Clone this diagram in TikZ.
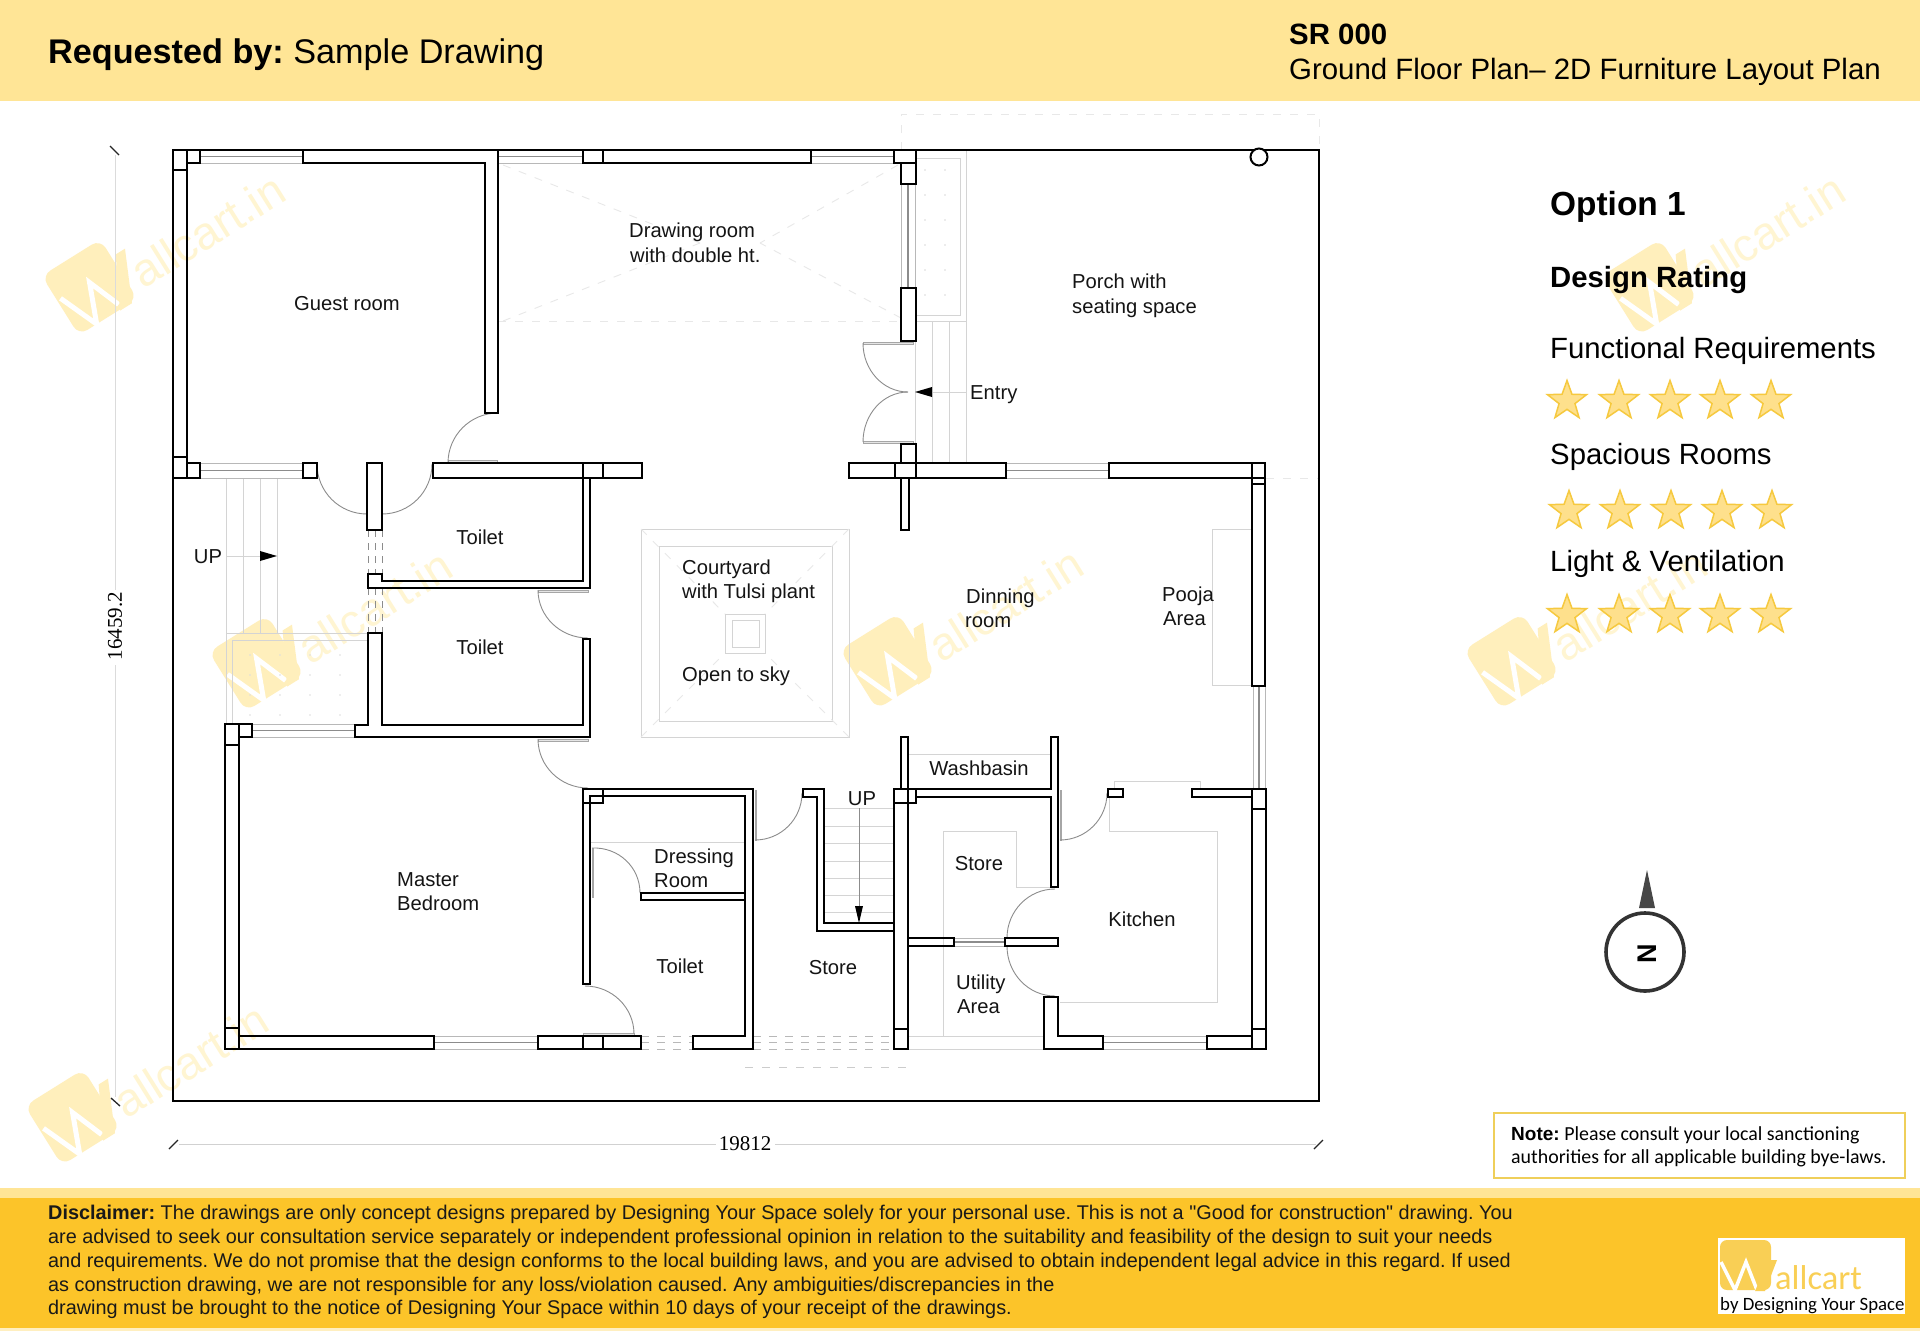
\documentclass[tikz,border=0pt]{standalone}
\usepackage{fontspec}
\usetikzlibrary{shapes.geometric}
\setmainfont{Liberation Sans}
\newfontfamily\plainsans{Liberation Sans}
\newfontfamily\calib{Carlito}
\newfontfamily\serf{Liberation Serif}
\frenchspacing
\definecolor{bandlight}{HTML}{FFE596}
\definecolor{bandorange}{HTML}{FCC429}
\definecolor{wmlogo}{HTML}{FFEFBC}
\definecolor{wmtext}{HTML}{FFF5D2}
\definecolor{logoyellow}{HTML}{F9CF55}
\definecolor{starfill}{HTML}{FEE08C}
\definecolor{starline}{HTML}{F6C93F}
\definecolor{notebox}{HTML}{EFCF5A}
\tikzset{
  wall/.style={draw=black,line width=2pt,line join=miter},
  fwin/.style={draw=black!28,line width=1pt},
  mwin/.style={draw=black!45,line width=1.6pt},
  faint/.style={draw=black!17,line width=0.9pt},
  faintd/.style={draw=black!9,line width=0.9pt,dash pattern=on 8pt off 9pt},
  doorarc/.style={draw=black!45,line width=0.9pt},
  leaf/.style={draw=black!35,fill=black!10,line width=0.6pt},
  hid/.style={draw=black!45,line width=1pt,dash pattern=on 7pt off 6pt},
  hidlight/.style={draw=black!28,line width=1pt,dash pattern=on 8pt off 8pt},
  room/.style={font=\fontsize{20.2}{24}\selectfont,inner sep=0pt,text height=14.4pt,text depth=0pt,text=black!92},
  roomw/.style={room,anchor=west},
  side/.style={inner sep=0pt,anchor=base west},
  discl/.style={inner sep=0pt,anchor=base west,font=\fontsize{19.85}{22}\selectfont,text=black!90},
  dim/.style={font=\serf\fontsize{21}{24}\selectfont,inner sep=0pt},
  ratingstar/.style={star,star points=5,star point ratio=2.45,fill=starfill,draw=starline,line width=1.5pt,minimum size=41pt,inner sep=0pt},
}
\newcommand{\hwin}[4]{% x1 x2 y1 y2
  \pgfmathsetmacro\wmid{(#3+#4)/2}
  \draw[fwin] (#1,#3) -- (#2,#3);
  \draw[fwin] (#1,#4) -- (#2,#4);
  \draw[mwin] (#1,\wmid) -- (#2,\wmid);}
\newcommand{\vwin}[4]{% y1 y2 x1 x2
  \pgfmathsetmacro\wmid{(#3+#4)/2}
  \draw[fwin] (#3,#1) -- (#3,#2);
  \draw[fwin] (#4,#1) -- (#4,#2);
  \draw[mwin] (\wmid,#1) -- (\wmid,#2);}
\newcommand{\qarc}[6]{% hinge, start, end
  \pgfmathsetmacro\cax{#3+0.5523*(#5-#1)}
  \pgfmathsetmacro\cay{#4+0.5523*(#6-#2)}
  \pgfmathsetmacro\cbx{#5+0.5523*(#3-#1)}
  \pgfmathsetmacro\cby{#6+0.5523*(#4-#2)}
  \draw[doorarc] (#3,#4) .. controls (\cax,\cay) and (\cbx,\cby) .. (#5,#6);}
\newcommand{\wmark}[3]{% name, logo centre
  \begin{scope}[shift={(#2,#3)},rotate=32]
    \fill[wmlogo,rounded corners=10pt] (-35,-35) rectangle (34,35);
    \draw[white,line width=5pt,line join=miter] (-31,-6) -- (-14,35) -- (2,-4) -- (15,30);
    \fill[wmlogo] (13,36) -- (27,36) -- (50,-14) -- (39,-14) -- cycle;
    \node[transform shape,anchor=base west,inner sep=0pt,text=wmtext,font=\fontsize{46}{50}\selectfont] (#1) at (44,31) {allcart.in};
  \end{scope}}
\begin{document}
\begin{tikzpicture}[x=1pt,y=-1pt]
\useasboundingbox (0,0) rectangle (1920,1331);
\fill[white] (0,0) rectangle (1920,1331);
% bands
\fill[bandlight] (0,0) rectangle (1920,101);
\fill[bandlight] (0,1188) rectangle (1920,1198);
\fill[bandorange] (0,1198) rectangle (1920,1328);
\fill[bandlight!60] (0,1328) rectangle (1920,1331);
% watermarks
\wmark{wa}{90}{287}
\wmark{wb}{257}{663}
\wmark{wc}{888}{661}
\wmark{wd}{1512}{661}
\wmark{we}{1650}{287}
\wmark{wf}{73}{1117}
% header
\node[side,font=\fontsize{34.2}{40}\selectfont] (req) at (48,63) {\textbf{Requested by:} Sample Drawing};
\node[side,font=\bfseries\fontsize{29.4}{34}\selectfont] (sr) at (1289,44) {SR 000};
\node[side,font=\fontsize{29.4}{34}\selectfont] (gf) at (1289,79) {Ground Floor Plan– 2D Furniture Layout Plan};
% dimensions
\draw[black!14,line width=1pt] (115,155) -- (115,590);
\draw[black!14,line width=1pt] (115,665) -- (115,1097);
\draw[black!85,line width=1.3pt] (110,146) -- (119,155);
\draw[black!85,line width=1.3pt] (111,1098) -- (120,1106);
\node[dim,rotate=90] (dimv) at (115,626) {16459.2};
\draw[black!18,line width=1pt] (179,1144) -- (716,1144);
\draw[black!18,line width=1pt] (775,1144) -- (1316,1144);
\draw[black!85,line width=1.3pt] (169,1149) -- (178,1140);
\draw[black!85,line width=1.3pt] (1314,1149) -- (1323,1140);
\node[dim] (dimh) at (745,1144) {19812};
% faint dashes
\draw[faintd] (901,150) -- (901,114) -- (1319,114) -- (1319,150);
\draw[faintd] (498,321) -- (901,321);
\draw[faintd] (503,165) -- (700,243);
\draw[faintd] (503,321) -- (700,243);
\draw[faintd] (898,165) -- (760,243);
\draw[faintd] (901,318) -- (760,243);
\draw[faintd] (1266,478) -- (1319,478);
\draw[draw=black!20,line width=0.9pt,dash pattern=on 8pt off 9pt] (745,1067) -- (909,1067) -- (909,1062);
% entry planter and steps
\draw[faint] (915,158) -- (960,158) -- (960,315) -- (915,315);
\draw[faint] (966,150) -- (966,321) -- (915,321);
\foreach \py in {170,195,...,310} \foreach \px in {925,945} \fill[black!15] (\px,\py) circle (0.9pt);
\foreach \sx in {915,932,949,966} \draw[faint] (\sx,321) -- (\sx,463);
\draw[faint] (932,392) -- (966,392);
\fill[black] (915,392) -- (932,387) -- (932,397) -- cycle;
% left stairs
\foreach \sx in {226,243,260,277} \draw[faint] (\sx,478) -- (\sx,633);
\draw[faint] (226,633) -- (226,724);
\draw[faint] (226,633) -- (367,633);
\draw[faint] (232,724) -- (232,640) -- (367,640);
\foreach \py in {655,675,695,715} \foreach \px in {250,280,...,360} \fill[black!13] (\px,\py) circle (0.9pt);
\draw[faint] (226,556) -- (260,556);
\fill[black] (277,556) -- (260,551) -- (260,561) -- cycle;
% courtyard
\draw[faint] (641,529) rectangle (849,737);
\draw[faint] (659,546) rectangle (832,721);
\draw[faint] (725,614) rectangle (765,653);
\draw[faint] (732,620) rectangle (759,647);
\draw[faintd] (641,529) -- (725,614);
\draw[faintd] (849,529) -- (765,614);
\draw[faintd] (641,737) -- (725,653);
\draw[faintd] (849,737) -- (765,653);
% pooja counter
\draw[faint] (1252,529) -- (1212,529) -- (1212,685) -- (1252,685);
% kitchen and store counters
\draw[faint] (943,1036) -- (943,831) -- (1016,831) -- (1016,887) -- (1051,887);
\draw[faint] (1114,789) -- (1114,781) -- (1200,781) -- (1200,789);
\draw[faint] (1109,797) -- (1109,831) -- (1217,831) -- (1217,1002) -- (1060,1002);
\draw[faint] (908,754) -- (1051,754);
\draw[faint] (908,1036) -- (1044,1036);
\draw[faint] (908,1049) -- (1044,1049);
\draw[faint] (590,842) -- (745,842);
% stair treads
\foreach \ty in {808,826,843,861,878,895,912} \draw[faint] (824,\ty) -- (894,\ty);
\draw[black!45,line width=0.9pt] (859,808) -- (859,906);
\fill[black] (859,923) -- (855,906) -- (863,906) -- cycle;
% windows
\hwin{200}{303}{150}{163}
\hwin{498}{583}{150}{163}
\hwin{811}{894}{150}{163}
\hwin{200}{303}{463}{478}
\hwin{1006}{1109}{463}{478}
\hwin{252}{355}{724}{737}
\hwin{434}{538}{1036}{1049}
\hwin{954}{1005}{938}{946}
\hwin{1103}{1207}{1036}{1049}
\vwin{184}{288}{901}{915}
\vwin{686}{789}{1253}{1265}
% hidden lines
\foreach \dx in {368,375,382} {
  \draw[hid] (\dx,530) -- (\dx,574);
  \draw[hid] (\dx,588) -- (\dx,633);
}
\foreach \dy in {1036,1042.5,1049} {
  \draw[hidlight] (641,\dy) -- (693,\dy);
  \draw[hidlight] (753,\dy) -- (894,\dy);
}
% door leaves
\draw[leaf] (448,460) rectangle (497,462);
\draw[leaf] (863,342) rectangle (913,344.5);
\draw[leaf] (863,441) rectangle (913,443.5);
\draw[leaf] (538,590) rectangle (588,592);
\draw[leaf] (538,739) rectangle (588,741);
\draw[leaf] (592,848) rectangle (593.5,897);
\draw[leaf] (583,1033.5) rectangle (634,1035);
\draw[leaf] (755,790) rectangle (756,840);
\draw[leaf] (1060,790) rectangle (1061,840);
% door arcs
\qarc{498}{463}{498}{413}{448}{463}
\qarc{367}{464}{317}{464}{367}{514}
\qarc{382}{464}{432}{464}{382}{514}
\qarc{908}{343}{863}{343}{908}{392}
\qarc{908}{442}{863}{442}{908}{392}
\qarc{588}{590}{538}{590}{588}{638}
\qarc{588}{739}{538}{739}{588}{788}
\qarc{592}{895}{592}{848}{640}{893}
\qarc{585}{1034}{585}{986}{634}{1034}
\qarc{755}{793}{755}{840}{802}{793}
\qarc{1060}{793}{1060}{840}{1107}{793}
\qarc{1055}{938}{1055}{889}{1007}{938}
\qarc{1055}{946}{1007}{946}{1055}{996}
% walls: top
\draw[wall] (173,150) rectangle (187,170);
\draw[wall] (187,150) rectangle (200,163);
\draw[wall] (173,170) rectangle (187,457);
\draw[wall] (303,150) -- (498,150) -- (498,413) -- (485,413) -- (485,163) -- (303,163) -- cycle;
\draw[wall] (583,150) rectangle (603,163);
\draw[wall] (603,150) rectangle (811,163);
\draw[wall] (894,150) rectangle (915.5,163);
\draw[wall] (901,163) rectangle (915.5,184);
\draw[wall] (901,288) rectangle (915.5,341);
\draw[wall] (901,444) rectangle (915.5,463);
% walls: band at y 463
\draw[wall] (173,457) rectangle (187,478);
\draw[wall] (187,463) rectangle (200,478);
\draw[wall] (303,463) rectangle (317,478);
\draw[wall] (367,463) rectangle (382,530);
\draw[wall] (433,463) rectangle (642,478);
\draw[wall] (583,463) rectangle (603,478);
\draw[wall] (849,463) rectangle (1006,478);
\draw[wall] (894.5,463) rectangle (915.5,478);
\draw[wall] (901,478) rectangle (909,530);
\draw[wall] (1109,463) -- (1265,463) -- (1265,478) -- (1109,478) -- cycle;
\draw[wall] (1252,463) rectangle (1265,484);
\draw[wall] (1252,484) rectangle (1265,686);
% toilets
\draw[wall] (583,478) -- (583,581) -- (382,581) -- (382,574) -- (368,574) -- (368,588) -- (590,588) -- (590,478);
\draw[wall] (368,633) -- (382,633) -- (382,725) -- (583,725) -- (583,639) -- (590,639) -- (590,737) -- (355,737) -- (355,725) -- (368,725) -- cycle;
% master bedroom
\draw[wall] (225,724) rectangle (239,745);
\draw[wall] (239,724) rectangle (252,737);
\draw[wall] (225,745) rectangle (239,1028);
\draw[wall] (225,1028) rectangle (239,1049);
\draw[wall] (239,1036) rectangle (434,1049);
\draw[wall] (538,1036) rectangle (641,1049);
\draw[wall] (583,1036) -- (583,1049);
\draw[wall] (603,1036) -- (603,1049);
% dressing and toilet
\draw[wall] (583,984) -- (583,789) -- (753,789) -- (753,1049) -- (693,1049) -- (693,1036) -- (745,1036) -- (745,796) -- (590,796) -- (590,984) -- cycle;
\draw[wall] (583,789) rectangle (603,803);
\draw[wall] (641,893) rectangle (745,900);
% stair walls
\draw[wall] (803,789) -- (824,789) -- (824,923) -- (894,923) -- (894,931) -- (817,931) -- (817,797) -- (803,797) -- cycle;
\draw[wall] (894,789) rectangle (908,1049);
\draw[wall] (894,1029) -- (908,1029);
\draw[wall] (894,789) rectangle (916,803);
% washbasin, store, utility
\draw[wall] (901,737) rectangle (908,789);
\draw[wall] (908,938) rectangle (954,946);
\draw[wall] (1051,737) -- (1058,737) -- (1058,887) -- (1051,887) -- (1051,797) -- (916,797) -- (916,789) -- (1051,789) -- cycle;
\draw[wall] (1005,938) rectangle (1058,946);
\draw[wall] (1044,997) -- (1058,997) -- (1058,1036) -- (1103,1036) -- (1103,1049) -- (1044,1049) -- cycle;
\draw[wall] (1207,1036) rectangle (1252,1049);
\draw[wall] (1252,789) rectangle (1266,1049);
\draw[wall] (1252,809) -- (1266,809);
\draw[wall] (1252,1029) -- (1266,1029);
\draw[wall] (1192,789) rectangle (1252,797);
\draw[wall] (1108,789) rectangle (1123,797);
% plot boundary and rain pipe
\draw[black,line width=2.4pt] (173,150) rectangle (1319,1101);
\draw[black,line width=2pt,fill=white] (1259,157) circle (8.5pt);
% room labels
\node[room] (guest) at (347,303) {Guest room};
\node[roomw] (dr1) at (629,230) {Drawing room};
\node[roomw] (dr2) at (630,255) {with double ht.};
\node[roomw] (por1) at (1072,281) {Porch with};
\node[roomw] (por2) at (1072,306) {seating space};
\node[roomw] (entry) at (970,392) {Entry};
\node[room] (up1) at (208,556) {UP};
\node[room] (toil1) at (480,537) {Toilet};
\node[room] (toil2) at (480,647) {Toilet};
\node[roomw] (cy1) at (682,567) {Courtyard};
\node[roomw] (cy2) at (682,591) {with Tulsi plant};
\node[roomw] (cy3) at (682,674) {Open to sky};
\node[roomw] (din1) at (966,596) {Dinning};
\node[roomw] (din2) at (965,620) {room};
\node[roomw] (poo1) at (1162,594) {Pooja};
\node[roomw] (poo2) at (1163,618) {Area};
\node[room] (wash) at (979,768) {Washbasin};
\node[room] (up2) at (862,798) {UP};
\node[room] (sto1) at (979,863) {Store};
\node[room] (kit) at (1142,919) {Kitchen};
\node[roomw] (uti1) at (956,982) {Utility};
\node[roomw] (uti2) at (957,1006) {Area};
\node[room] (sto2) at (833,967) {Store};
\node[roomw] (mas1) at (397,879) {Master};
\node[roomw] (mas2) at (397,903) {Bedroom};
\node[roomw] (dre1) at (654,856) {Dressing};
\node[roomw] (dre2) at (654,880) {Room};
\node[room] (toil3) at (680,966) {Toilet};
% right column
\node[side,font=\bfseries\fontsize{33.4}{38}\selectfont] (opt) at (1550,215) {Option 1};
\node[side,font=\bfseries\fontsize{29.3}{34}\selectfont] (rat) at (1550,287) {Design Rating};
\node[side,font=\fontsize{29.3}{34}\selectfont] (fun) at (1550,358) {Functional Requirements};
\node[side,font=\fontsize{29.3}{34}\selectfont] (spa) at (1550,464) {Spacious Rooms};
\node[side,font=\fontsize{29.3}{34}\selectfont] (lig) at (1550,571) {Light \& Ventilation};
\foreach \sx [count=\c] in {1567,1619,1670,1720,1771} {
  \node[ratingstar] (sa\c) at (\sx,401) {};
  \node[ratingstar] (sc\c) at (\sx,615) {};
}
\foreach \sx [count=\c] in {1569,1620,1671,1722,1772} {
  \node[ratingstar] (sb\c) at (\sx,511) {};
}
% compass
\draw[black!80,line width=3.6pt] (1645,952) circle (39pt);
\fill[black!72] (1647,870) -- (1655,908) -- (1639,908) -- cycle;
\node[inner sep=0pt,rotate=90,font=\bfseries\fontsize{27}{30}\selectfont] (north) at (1647,954) {N};
% note
\draw[notebox,line width=1.6pt] (1494,1113) rectangle (1905,1178);
\node[side,font=\calib\fontsize{19.9}{22}\selectfont] (note1) at (1511,1140) {\textbf{\plainsans\fontsize{19}{22}\selectfont Note:} Please consult your local sanctioning};
\node[side,font=\calib\fontsize{19.9}{22}\selectfont] (note2) at (1511,1163) {authorities for all applicable building bye-laws.};
% disclaimer
\node[discl] (d1) at (48,1219) {\textbf{Disclaimer:} The drawings are only concept designs prepared by Designing Your Space solely for your personal use. This is not a {\plainsans"}Good for construction{\plainsans"} drawing. You};
\node[discl] (d2) at (48,1243) {are advised to seek our consultation service separately or independent professional opinion in relation to the suitability and feasibility of the design to suit your needs};
\node[discl] (d3) at (48,1267) {and requirements. We do not promise that the design conforms to the local building laws, and you are advised to obtain independent legal advice in this regard. If used};
\node[discl] (d4) at (48,1291) {as construction drawing, we are not responsible for any loss/violation caused. Any ambiguities/discrepancies in the};
\node[discl] (d5) at (48,1314) {drawing must be brought to the notice of Designing Your Space within 10 days of your receipt of the drawings.};
% footer logo
\fill[white] (1718,1238) rectangle (1905,1314);
\fill[logoyellow,rounded corners=7pt] (1720,1240) rectangle (1771,1290);
\draw[white,line width=3.5pt,line join=miter] (1721,1262) -- (1735,1290) -- (1746,1262) -- (1757,1290);
\fill[logoyellow] (1755,1291) -- (1765,1291) -- (1777,1260) -- (1769,1260) -- cycle;
\node[side,font=\calib\fontsize{34.5}{36}\selectfont,text=logoyellow] (lg1) at (1775,1289) {allcart};
\node[side,font=\calib\fontsize{18.8}{22}\selectfont] (lg2) at (1720,1310) {by Designing Your Space};
\end{tikzpicture}
\end{document}
